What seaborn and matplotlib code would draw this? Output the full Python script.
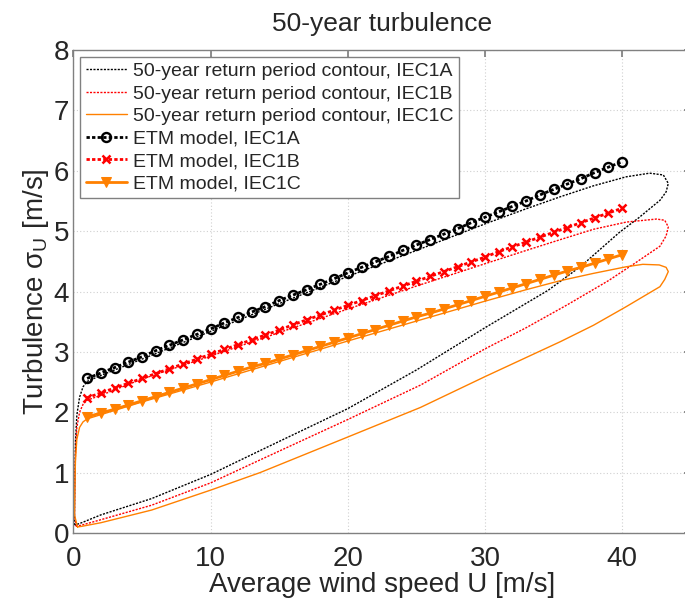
import numpy as np
import pandas as pd
import matplotlib
matplotlib.use("Agg")
import matplotlib.pyplot as plt
import seaborn as sns

# ---------------- data ----------------
etm_u = list(range(1, 41))
etm_A = [2.56, 2.65, 2.74, 2.83, 2.92, 3.02, 3.11, 3.20, 3.29, 3.38,
         3.48, 3.57, 3.66, 3.75, 3.85, 3.94, 4.03, 4.12, 4.21, 4.31,
         4.40, 4.49, 4.58, 4.68, 4.77, 4.86, 4.95, 5.04, 5.14, 5.23,
         5.32, 5.41, 5.50, 5.60, 5.69, 5.78, 5.87, 5.97, 6.06, 6.15]
etm_B = [2.24, 2.32, 2.40, 2.48, 2.56, 2.64, 2.72, 2.80, 2.88, 2.96,
         3.04, 3.12, 3.20, 3.28, 3.36, 3.45, 3.53, 3.61, 3.69, 3.77,
         3.85, 3.93, 4.01, 4.09, 4.17, 4.25, 4.33, 4.41, 4.49, 4.57,
         4.66, 4.74, 4.82, 4.90, 4.98, 5.06, 5.14, 5.22, 5.30, 5.38]
etm_C = [1.92, 1.99, 2.05, 2.12, 2.19, 2.26, 2.33, 2.40, 2.47, 2.54,
         2.61, 2.68, 2.75, 2.81, 2.88, 2.95, 3.02, 3.09, 3.16, 3.23,
         3.30, 3.37, 3.44, 3.51, 3.58, 3.64, 3.71, 3.78, 3.85, 3.92,
         3.99, 4.06, 4.13, 4.20, 4.27, 4.34, 4.40, 4.47, 4.54, 4.61]

# 50-year contours (closed curves, traced counter-clockwise)
cont_A_u = [0.10, 0.08, 0.10, 0.15, 0.25, 0.45, 0.70, 1.0, 2.0, 5.0, 10.0, 15.0, 20.0, 25.0,
            30.0, 33.0, 35.5, 37.9, 40.3, 42.0, 43.0, 43.36, 43.2, 42.75, 41.2, 39.8,
            37.0, 34.6, 30.0, 25.0, 20.0, 14.2, 10.0, 5.7, 2.0, 0.6, 0.10]
cont_A_s = [0.13, 0.30, 0.80, 1.50, 1.95, 2.25, 2.42, 2.51, 2.61, 2.88, 3.34, 3.80, 4.25, 4.68,
            5.12, 5.37, 5.57, 5.75, 5.90, 5.96, 5.93, 5.79, 5.65, 5.51, 5.22, 4.98,
            4.42, 4.02, 3.40, 2.70, 2.06, 1.43, 0.97, 0.57, 0.30, 0.17, 0.13]

cont_B_u = [0.20, 0.08, 0.10, 0.15, 0.25, 0.45, 0.70, 1.0, 2.0, 5.0, 10.0, 15.0, 20.0, 25.0,
            30.0, 33.0, 35.5, 37.9, 40.3, 42.5, 43.1, 43.36, 43.2, 42.75, 41.0, 39.0,
            36.0, 33.0, 30.0, 25.3, 20.0, 13.6, 10.0, 5.7, 2.0, 0.6, 0.20]
cont_B_s = [0.11, 0.30, 0.70, 1.30, 1.75, 2.00, 2.13, 2.20, 2.28, 2.55, 2.93, 3.32, 3.71, 4.09,
            4.46, 4.68, 4.86, 5.03, 5.15, 5.20, 5.18, 5.07, 4.92, 4.75, 4.48, 4.18,
            3.78, 3.40, 3.05, 2.45, 1.88, 1.21, 0.83, 0.46, 0.22, 0.13, 0.11]

cont_C_u = [0.30, 0.08, 0.10, 0.15, 0.25, 0.45, 0.70, 1.0, 2.0, 5.0, 10.0, 15.0, 20.0, 25.0,
            30.0, 33.0, 35.5, 37.9, 40.3, 41.5, 42.7, 43.2, 43.36, 43.1, 42.75, 40.3,
            37.9, 35.5, 30.0, 25.3, 20.0, 13.6, 10.0, 5.7, 2.0, 0.6, 0.30]
cont_C_s = [0.10, 0.30, 0.70, 1.20, 1.55, 1.75, 1.84, 1.89, 1.96, 2.17, 2.50, 2.84, 3.18, 3.51,
            3.84, 4.03, 4.18, 4.30, 4.41, 4.45, 4.44, 4.40, 4.33, 4.20, 4.08, 3.75,
            3.44, 3.17, 2.59, 2.08, 1.59, 1.00, 0.71, 0.38, 0.17, 0.11, 0.10]

labels_cont = ["50-year return period contour, IEC1A",
               "50-year return period contour, IEC1B",
               "50-year return period contour, IEC1C"]
labels_etm = ["ETM model, IEC1A", "ETM model, IEC1B", "ETM model, IEC1C"]

x_ticks = [0, 10, 20, 30, 40]
y_ticks = [0, 1, 2, 3, 4, 5, 6, 7, 8]

# ---------------- style ----------------
sns.set_theme(style="white")
plt.rcParams['font.family'] = ['Liberation Sans', 'DejaVu Sans']
plt.rcParams['mathtext.fontset'] = 'custom'
plt.rcParams['mathtext.rm'] = 'Liberation Sans'

BLACK = "#000000"
RED = "#FF0000"
ORANGE = "#FF8000"

fig = plt.figure(figsize=(6.85, 6.01), dpi=100)
W, H = 685.0, 601.0
left_px, right_px, top_px, bot_px = 73.4, 690.8, 50.0, 533.0
ax = fig.add_axes([left_px / W, 1 - bot_px / H, (right_px - left_px) / W, (bot_px - top_px) / H])

# contours
for u, s, c, ls, lab in [(cont_A_u, cont_A_s, BLACK, (0, (1.5, 1.0)), labels_cont[0]),
                         (cont_B_u, cont_B_s, RED, (0, (1.5, 1.0)), labels_cont[1]),
                         (cont_C_u, cont_C_s, ORANGE, '-', labels_cont[2])]:
    sns.lineplot(x=u, y=s, sort=False, estimator=None, ax=ax, color=c,
                 linestyle=ls, linewidth=1.0, label=lab)

# ETM models
sns.lineplot(x=etm_u, y=etm_A, ax=ax, color=BLACK, linestyle=(0, (1.2, 0.8)), linewidth=2.0,
             marker='o', markersize=6.5, markerfacecolor='none', markeredgecolor=BLACK,
             markeredgewidth=1.7, label=labels_etm[0])
sns.lineplot(x=etm_u, y=etm_B, ax=ax, color=RED, linestyle=(0, (1.2, 0.8)), linewidth=2.0,
             marker='x', markersize=6, markeredgecolor=RED, markeredgewidth=1.8,
             label=labels_etm[1])
sns.lineplot(x=etm_u, y=etm_C, ax=ax, color=ORANGE, linestyle='-', linewidth=2.0,
             marker='v', markersize=7, markerfacecolor=ORANGE, markeredgecolor=ORANGE,
             label=labels_etm[2])

ax.set_xlim(0, 45)
ax.set_ylim(0, 8)
ax.set_xticks(x_ticks)
ax.set_yticks(y_ticks)
ax.tick_params(axis='both', labelsize=20, direction='in', top=True, right=True,
               length=5, color='#808080')
ax.tick_params(axis='x', pad=9)
ax.tick_params(axis='y', pad=3)
ax.grid(True, color='#d0d0d0', linestyle=(0, (1, 2)), linewidth=0.8)
for sp in ax.spines.values():
    sp.set_color('#808080')
    sp.set_linewidth(1.0)

ax.set_xlabel("Average wind speed U [m/s]", fontsize=20, labelpad=0)
ax.set_ylabel(r"Turbulence σ$_{\mathregular{U}}$ [m/s]", fontsize=20, labelpad=2)
ax.set_title("50-year turbulence", fontsize=19, pad=14)

leg = ax.legend(loc='upper left', fontsize=14, frameon=True, fancybox=False,
                edgecolor='#808080', framealpha=1.0, handlelength=2.1,
                handletextpad=0.3, labelspacing=0.25, borderpad=0.3,
                borderaxespad=0.35)
leg.get_frame().set_linewidth(1.0)

fig.savefig("out.png", dpi=100)
